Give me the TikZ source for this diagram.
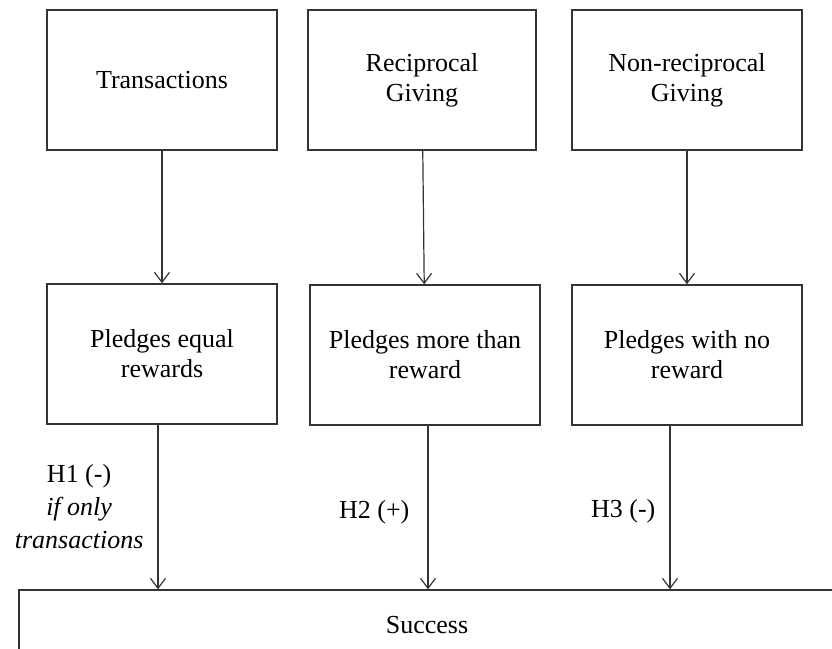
\documentclass[tikz,border=0pt]{standalone}
\usepackage{fontspec}
\setmainfont{Liberation Serif}
\usetikzlibrary{arrows.meta}
\tikzset{block/.style={draw=black!80, line width=0.7pt, minimum width=115pt, minimum height=70pt,
    align=center, font=\fontsize{13}{15}\selectfont},
  hyp/.style={anchor=east, inner sep=0pt, align=center, font=\fontsize{13}{16.5}\selectfont}}

\begin{document}
\begin{tikzpicture}[x=0.5pt, y=-0.5pt, line width=0.6pt,
    >={Straight Barb[length=5pt, width=7.5pt]}]
        \useasboundingbox (0,0) rectangle (832,649);

        % sources
        \node[block] (trans) at (162,80) {Transactions};
        \node[block, minimum width=114pt] (recip) at (422,80) {Reciprocal\\Giving};
        \node[block] (nonrecip) at (687,80) {Non-reciprocal\\Giving};

        % pledge types
        \node[block] (equal) at (162,354) {Pledges equal\\rewards};
        \node[block] (more) at (425,355) {Pledges more than\\reward};
        \node[block] (none) at (687,355) {Pledges with no\\reward};

        \node[block, minimum width=408pt, minimum height=35pt] (success) at (427,625) {Success};

        \draw [->, draw=black!80] (trans) -- (equal);
        \draw [->, draw=black!80] (recip) -- (more);
        \draw [->, draw=black!80] (nonrecip) -- (none);

        \draw [->, draw=black!80] ([xshift=-2pt]equal.south) -- node[hyp, xshift=-7pt, pos=0.5]
            {H1 (-)\\\textit{if only}\\\textit{transactions}} ([xshift=-2pt]equal.south |- success.north);
        \draw [->, draw=black!80] ([xshift=1.5pt]more.south) -- node[hyp, xshift=-9pt, pos=0.53]
            {H2 (+)} ([xshift=1.5pt]more.south |- success.north);
        \draw [->, draw=black!80] ([xshift=-8.5pt]none.south) -- node[hyp, xshift=-7pt, pos=0.52]
            {H3 (-)} ([xshift=-8.5pt]none.south |- success.north);
    \end{tikzpicture}
\end{document}
